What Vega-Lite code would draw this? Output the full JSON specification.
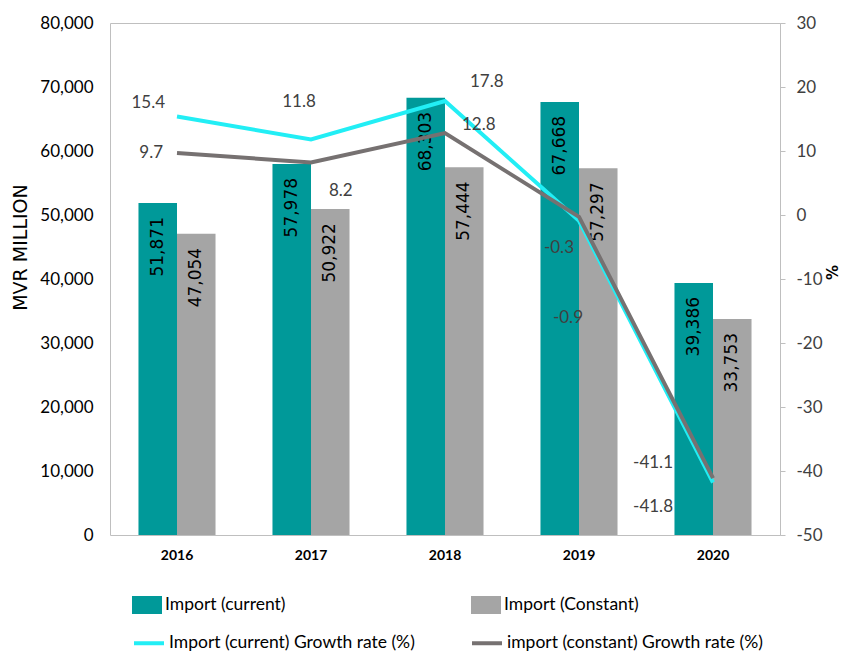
{
  "$schema": "https://vega.github.io/schema/vega-lite/v6.json",
  "width": 670,
  "height": 512,
  "autosize": "none",
  "padding": {"left": 110, "top": 23, "right": 61, "bottom": 119},
  "background": "white",
  "config": {
    "view": {"stroke": "#BFBFBF", "strokeWidth": 1},
    "font": "Lato"
  },
  "data": {
    "values": [
      {"year": "2016", "kind": "bar", "series": "Import (current)", "value": 51871},
      {"year": "2016", "kind": "bar", "series": "Import (Constant)", "value": 47054},
      {"year": "2017", "kind": "bar", "series": "Import (current)", "value": 57978},
      {"year": "2017", "kind": "bar", "series": "Import (Constant)", "value": 50922},
      {"year": "2018", "kind": "bar", "series": "Import (current)", "value": 68303},
      {"year": "2018", "kind": "bar", "series": "Import (Constant)", "value": 57444},
      {"year": "2019", "kind": "bar", "series": "Import (current)", "value": 67668},
      {"year": "2019", "kind": "bar", "series": "Import (Constant)", "value": 57297},
      {"year": "2020", "kind": "bar", "series": "Import (current)", "value": 39386},
      {"year": "2020", "kind": "bar", "series": "Import (Constant)", "value": 33753},
      {"year": "2016", "kind": "line", "series": "Import (current) Growth rate (%)", "value": 15.4},
      {"year": "2017", "kind": "line", "series": "Import (current) Growth rate (%)", "value": 11.8},
      {"year": "2018", "kind": "line", "series": "Import (current) Growth rate (%)", "value": 17.8},
      {"year": "2019", "kind": "line", "series": "Import (current) Growth rate (%)", "value": -0.9},
      {"year": "2020", "kind": "line", "series": "Import (current) Growth rate (%)", "value": -41.8},
      {"year": "2016", "kind": "line", "series": "import (constant) Growth rate (%)", "value": 9.7},
      {"year": "2017", "kind": "line", "series": "import (constant) Growth rate (%)", "value": 8.2},
      {"year": "2018", "kind": "line", "series": "import (constant) Growth rate (%)", "value": 12.8},
      {"year": "2019", "kind": "line", "series": "import (constant) Growth rate (%)", "value": -0.3},
      {"year": "2020", "kind": "line", "series": "import (constant) Growth rate (%)", "value": -41.1}
    ]
  },
  "encoding": {
    "x": {
      "field": "year", "type": "nominal",
      "scale": {"paddingInner": 0.425, "paddingOuter": 0.2125},
      "axis": {"title": null, "labelAngle": 0, "domain": false, "ticks": false, "labelPadding": 13, "labelFont": "Lato", "labelFontSize": 14, "labelFontWeight": "bold", "labelColor": "#000000"}
    }
  },
  "layer": [
    {
      "transform": [{"filter": "datum.kind === 'bar'"}],
      "encoding": {
        "y": {
          "field": "value", "type": "quantitative",
          "scale": {"domain": [0, 80000], "nice": false},
          "axis": {"title": "MVR MILLION", "titleFont": "DejaVu Sans", "titleFontSize": 19, "titleFontWeight": "normal", "titleColor": "#000000", "titlePadding": 9, "titleY": 224, "values": [0, 10000, 20000, 30000, 40000, 50000, 60000, 70000, 80000], "format": ",.0f", "grid": false, "domain": false, "ticks": false, "labelPadding": 17, "labelFont": "Lato", "labelFontSize": 17, "labelColor": "#000000"}
        },
        "xOffset": {"field": "series", "type": "nominal", "sort": ["Import (current)", "Import (Constant)"], "scale": {"paddingInner": 0, "paddingOuter": 0}}
      },
      "layer": [
        {
          "mark": {"type": "bar"},
          "encoding": {
            "fill": {
              "field": "series", "type": "nominal",
              "scale": {"domain": ["Import (current)", "Import (Constant)"], "range": ["#009999", "#A5A5A5"]},
              "legend": {"orient": "none", "legendX": 22, "legendY": 567, "direction": "horizontal", "columns": 2, "columnPadding": 185, "title": null, "symbolType": "M-1,-0.6H1V0.6H-1Z", "symbolSize": 900, "symbolStrokeWidth": 0, "symbolOpacity": 1, "labelFont": "Lato", "labelFontSize": 17.5, "labelColor": "#000000", "labelOffset": 3, "labelLimit": 400}
            }
          }
        },
        {
          "mark": {"type": "text", "angle": 270, "align": "right", "baseline": "middle", "dx": -14, "font": "DejaVu Sans", "fontSize": 17, "color": "#000000"},
          "encoding": {
            "text": {"field": "value", "type": "quantitative", "format": ",.0f"}
          }
        }
      ]
    },
    {
      "transform": [
        {"filter": "datum.kind === 'line'"},
        {"calculate": "replace(format(datum.value, '.1f'), '\u2212', '-')", "as": "label"}
      ],
      "encoding": {
        "y": {
          "field": "value", "type": "quantitative",
          "scale": {"domain": [-50, 30], "nice": false, "zero": false},
          "axis": {"orient": "right", "title": "%", "titleFont": "DejaVu Sans", "titleFontSize": 15, "titleFontWeight": "bold", "titleColor": "#000000", "titlePadding": 0, "titleY": 249, "values": [-50, -40, -30, -20, -10, 0, 10, 20, 30], "labelExpr": "replace(datum.label, '\u2212', '-')", "grid": false, "domain": true, "domainColor": "#BFBFBF", "ticks": true, "tickSize": 5, "tickColor": "#BFBFBF", "labelPadding": 11, "labelFont": "Lato", "labelFontSize": 17, "labelColor": "#404040"}
        }
      },
      "layer": [
        {
          "mark": {"type": "line", "strokeWidth": 4},
          "encoding": {
            "stroke": {
              "field": "series", "type": "nominal",
              "scale": {"domain": ["Import (current) Growth rate (%)", "import (constant) Growth rate (%)"], "range": ["#22EEF5", "#767171"]},
              "legend": {"orient": "none", "legendX": 22, "legendY": 603, "direction": "horizontal", "columns": 2, "columnPadding": 49, "title": null, "symbolType": "stroke", "symbolSize": 900, "symbolStrokeWidth": 4, "labelFont": "Lato", "labelFontSize": 17.5, "labelColor": "#000000", "labelOffset": 3, "labelLimit": 400}
            }
          }
        },
        {
          "transform": [{"filter": "datum.year === '2016' && datum.series === 'Import (current) Growth rate (%)'"}],
          "mark": {"type": "text", "align": "right", "baseline": "middle", "dx": -12, "dy": -13, "fontSize": 17, "color": "#404040"},
          "encoding": {"text": {"field": "label"}}
        },
        {
          "transform": [{"filter": "datum.year === '2016' && datum.series === 'import (constant) Growth rate (%)'"}],
          "mark": {"type": "text", "align": "right", "baseline": "middle", "dx": -14, "dy": 0, "fontSize": 17, "color": "#404040"},
          "encoding": {"text": {"field": "label"}}
        },
        {
          "transform": [{"filter": "datum.year === '2017' && datum.series === 'Import (current) Growth rate (%)'"}],
          "mark": {"type": "text", "align": "center", "baseline": "middle", "dx": -12, "dy": -37, "fontSize": 17, "color": "#404040"},
          "encoding": {"text": {"field": "label"}}
        },
        {
          "transform": [{"filter": "datum.year === '2017' && datum.series === 'import (constant) Growth rate (%)'"}],
          "mark": {"type": "text", "align": "left", "baseline": "middle", "dx": 18, "dy": 28, "fontSize": 17, "color": "#404040"},
          "encoding": {"text": {"field": "label"}}
        },
        {
          "transform": [{"filter": "datum.year === '2018' && datum.series === 'Import (current) Growth rate (%)'"}],
          "mark": {"type": "text", "align": "left", "baseline": "middle", "dx": 25, "dy": -19, "fontSize": 17, "color": "#404040"},
          "encoding": {"text": {"field": "label"}}
        },
        {
          "transform": [{"filter": "datum.year === '2018' && datum.series === 'import (constant) Growth rate (%)'"}],
          "mark": {"type": "text", "align": "left", "baseline": "middle", "dx": 17, "dy": -8, "fontSize": 17, "color": "#404040"},
          "encoding": {"text": {"field": "label"}}
        },
        {
          "transform": [{"filter": "datum.year === '2019' && datum.series === 'import (constant) Growth rate (%)'"}],
          "mark": {"type": "text", "align": "right", "baseline": "middle", "dx": -5, "dy": 31, "fontSize": 17, "color": "#404040"},
          "encoding": {"text": {"field": "label"}}
        },
        {
          "transform": [{"filter": "datum.year === '2019' && datum.series === 'Import (current) Growth rate (%)'"}],
          "mark": {"type": "text", "align": "right", "baseline": "middle", "dx": 4, "dy": 97, "fontSize": 17, "color": "#404040"},
          "encoding": {"text": {"field": "label"}}
        },
        {
          "transform": [{"filter": "datum.year === '2020' && datum.series === 'import (constant) Growth rate (%)'"}],
          "mark": {"type": "text", "align": "right", "baseline": "middle", "dx": -40, "dy": -15, "fontSize": 17, "color": "#404040"},
          "encoding": {"text": {"field": "label"}}
        },
        {
          "transform": [{"filter": "datum.year === '2020' && datum.series === 'Import (current) Growth rate (%)'"}],
          "mark": {"type": "text", "align": "right", "baseline": "middle", "dx": -40, "dy": 24, "fontSize": 17, "color": "#404040"},
          "encoding": {"text": {"field": "label"}}
        }
      ]
    }
  ],
  "resolve": {"scale": {"y": "independent"}}
}
